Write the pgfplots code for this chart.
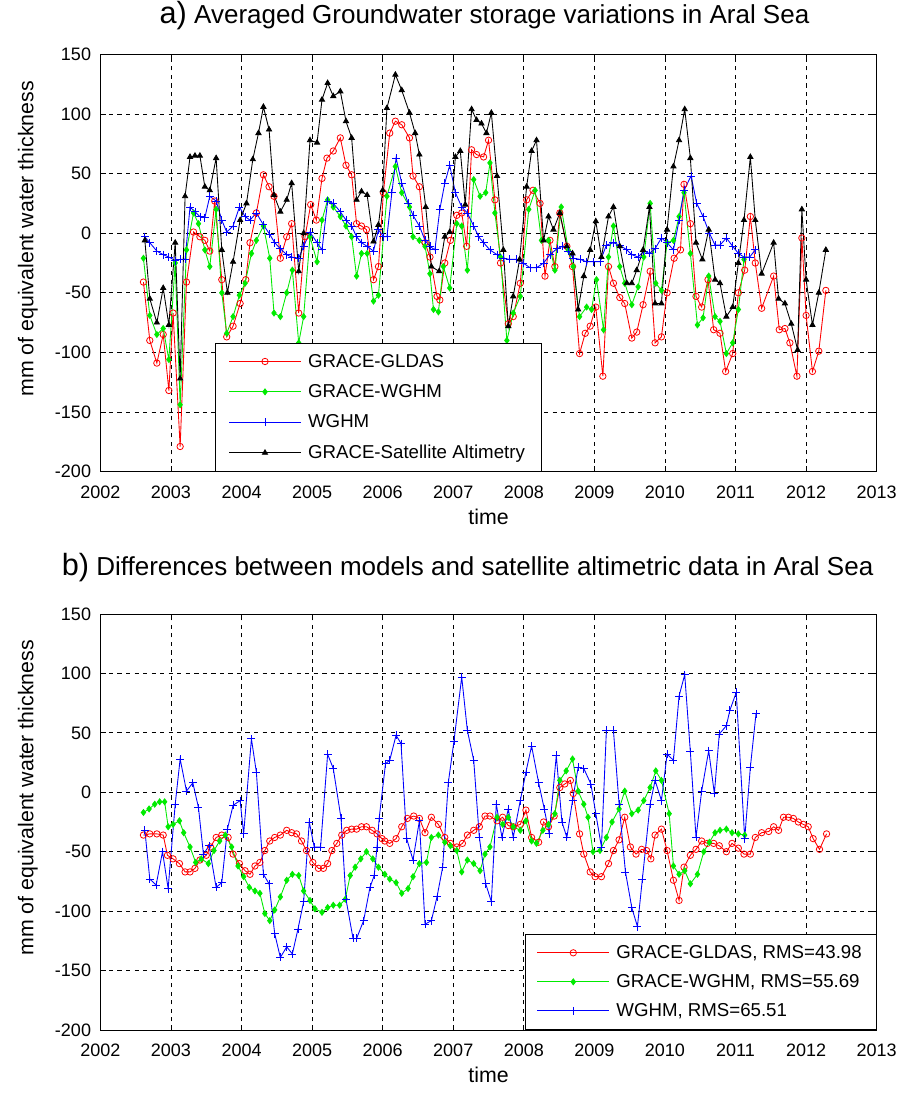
\documentclass[border=0pt]{standalone}
\usepackage{fontspec}
\setmainfont{Liberation Sans}
\usepackage{pgfplots}
\pgfplotsset{compat=1.18}
\definecolor{mred}{RGB}{255,0,0}
\definecolor{mgreen}{RGB}{0,235,0}
\definecolor{mblue}{RGB}{0,0,255}
\pgfplotsset{
  mystyle/.style={
    scale only axis, width=582.2pt, anchor=south west,
    xmin=2002, xmax=2013, ymin=-200, ymax=150,
    xtick={2002,2003,...,2013}, ytick={-200,-150,...,150},
    grid=major, grid style={black, dash pattern=on 3.2pt off 3.2pt, line width=0.55pt},
    axis line style={line width=0.7pt},
    tick align=inside, major tick length=4pt, tick style={black, line width=0.6pt},
    /pgf/number format/assume math mode=true,
    scaled x ticks=false,
    x tick label style={/pgf/number format/.cd, 1000 sep={}, /tikz/.cd, yshift=-7pt},
    y tick label style={xshift=-3.5pt},
    tick label style={font=\fontsize{13.5}{15}\selectfont},
    label style={font=\fontsize{16}{18}\selectfont},
    xlabel={time},
    xlabel style={at={(axis description cs:0.5,-0.126)}, anchor=base},
    ylabel={mm of equivalent water thickness},
    ylabel style={at={(axis description cs:-0.0933,0.558)}, anchor=center},
    legend cell align=left,
    legend image code/.code={\draw[mark repeat=2,mark phase=2,#1] plot coordinates {(0pt,0pt) (27pt,0pt) (54pt,0pt)};},
  },
  sred/.style={color=mred, line width=0.65pt, mark=o, mark size=2.4pt, mark options={solid, line width=0.6pt}},
  sgreen/.style={color=mgreen, line width=0.65pt, mark=diamond*, mark size=2.2pt, mark options={solid, fill=mgreen}},
  sblue/.style={color=mblue, line width=0.65pt, mark=+, mark size=3pt, mark options={solid, line width=0.6pt}},
  sblack/.style={color=black, line width=0.65pt, mark=triangle*, mark size=2.2pt, mark options={solid, fill=black}},
}
\begin{document}
\begin{tikzpicture}
\path[use as bounding box, fill=white] (0,0) rectangle (673.5pt,819.75pt);
% ---------------- top panel ----------------
\begin{axis}[mystyle,
  at={(75.3pt,466.1pt)}, height=312.8pt,
  title={{\fontsize{23}{25}\selectfont a)} Averaged Groundwater storage variations in Aral Sea},
  title style={font=\fontsize{19.5}{22}\selectfont, at={(axis description cs:0.0703,1.054)}, anchor=base west},
  legend style={at={(axis description cs:0.1476,0)}, anchor=south west, fill=white,
    font=\fontsize{14}{16}\selectfont, row sep=7.5pt, inner xsep=10pt, inner ysep=6pt,
    /tikz/every odd column/.append style={column sep=3pt}},
]
\addplot[sred] coordinates {(2002.61,-41)(2002.70,-90)(2002.80,-109)(2002.89,-85)(2002.97,-132)(2003.03,-67)(2003.13,-179)(2003.22,-41)(2003.32,1)(2003.41,-3)(2003.48,-6)(2003.55,-15)(2003.62,27)(2003.72,-39)(2003.79,-87)(2003.88,-78)(2003.98,-59)(2004.06,-39)(2004.12,-8)(2004.21,17)(2004.31,49)(2004.39,39)(2004.46,31)(2004.55,-21)(2004.64,-3)(2004.71,8)(2004.81,-67)(2004.90,-3)(2004.98,24)(2005.06,11)(2005.14,46)(2005.21,63)(2005.30,69)(2005.40,80)(2005.48,57)(2005.56,49)(2005.63,8)(2005.70,6)(2005.77,3)(2005.87,-39)(2005.94,-28)(2006.01,34)(2006.10,84)(2006.18,94)(2006.27,91)(2006.38,80)(2006.43,48)(2006.52,39)(2006.60,-8)(2006.67,-20)(2006.77,-53)(2006.81,-56)(2006.88,-25)(2006.96,-6)(2007.05,15)(2007.12,17)(2007.19,-11)(2007.26,70)(2007.33,66)(2007.43,64)(2007.50,78)(2007.59,28)(2007.67,-25)(2007.78,-76)(2007.85,-70)(2007.95,-42)(2008.04,28)(2008.13,36)(2008.23,25)(2008.30,-36)(2008.37,-6)(2008.44,-28)(2008.51,17)(2008.61,-11)(2008.69,-28)(2008.79,-101)(2008.87,-84)(2008.94,-78)(2009.02,-62)(2009.12,-120)(2009.20,-28)(2009.27,-42)(2009.36,-54)(2009.43,-59)(2009.53,-88)(2009.60,-83)(2009.69,-60)(2009.79,-32)(2009.86,-92)(2009.95,-87)(2010.03,-50)(2010.13,-21)(2010.22,-14)(2010.27,41)(2010.36,8)(2010.44,-53)(2010.52,-62)(2010.61,-39)(2010.69,-81)(2010.78,-84)(2010.86,-116)(2010.96,-101)(2011.04,-50)(2011.13,-31)(2011.21,14)(2011.28,-25)(2011.37,-63)(2011.54,-36)(2011.62,-81)(2011.70,-80)(2011.77,-92)(2011.87,-120)(2011.94,-4)(2012.00,-69)(2012.09,-116)(2012.18,-99)(2012.28,-48)};
\addlegendentry{GRACE-GLDAS}
\addplot[sgreen] coordinates {(2002.61,-21)(2002.70,-69)(2002.80,-85)(2002.89,-80)(2002.97,-106)(2003.06,-25)(2003.13,-144)(2003.22,-14)(2003.32,17)(2003.39,8)(2003.48,-14)(2003.55,-28)(2003.64,20)(2003.72,-50)(2003.79,-84)(2003.88,-70)(2003.97,-52)(2004.05,-42)(2004.14,-17)(2004.21,-6)(2004.31,6)(2004.40,-21)(2004.46,-67)(2004.55,-70)(2004.64,-50)(2004.72,-31)(2004.81,-92)(2004.88,-70)(2004.97,-3)(2005.07,-24)(2005.14,11)(2005.22,28)(2005.30,22)(2005.40,14)(2005.48,6)(2005.56,-3)(2005.63,-36)(2005.70,-17)(2005.78,-17)(2005.87,-57)(2005.94,-52)(2006.06,31)(2006.18,56)(2006.27,34)(2006.38,22)(2006.43,-3)(2006.52,-6)(2006.60,-11)(2006.67,-34)(2006.72,-64)(2006.79,-66)(2006.86,-28)(2006.95,-46)(2007.05,8)(2007.12,6)(2007.20,-31)(2007.29,45)(2007.38,31)(2007.46,34)(2007.52,59)(2007.59,17)(2007.67,-20)(2007.76,-90)(2007.85,-67)(2007.95,-53)(2008.07,20)(2008.16,36)(2008.25,-6)(2008.35,-6)(2008.44,-31)(2008.53,22)(2008.63,-14)(2008.70,-28)(2008.79,-70)(2008.89,-62)(2008.96,-64)(2009.03,-39)(2009.13,-81)(2009.20,-20)(2009.27,6)(2009.36,-28)(2009.43,-42)(2009.53,-60)(2009.62,-45)(2009.70,-20)(2009.79,25)(2009.87,-42)(2009.95,-48)(2010.03,-8)(2010.12,-6)(2010.20,14)(2010.27,34)(2010.36,-17)(2010.46,-77)(2010.54,-71)(2010.62,-36)(2010.71,-70)(2010.78,-74)(2010.87,-101)(2010.96,-92)(2011.04,-64)(2011.12,-22)};
\addlegendentry{GRACE-WGHM}
\addplot[sblue] coordinates {(2002.63,-3)(2002.70,-8)(2002.80,-15)(2002.89,-18)(2002.97,-20)(2003.06,-23)(2003.13,-22)(2003.20,-22)(2003.27,22)(2003.34,18)(2003.41,14)(2003.48,13)(2003.55,31)(2003.64,27)(2003.72,11)(2003.79,1)(2003.88,6)(2003.97,22)(2004.05,14)(2004.12,11)(2004.21,17)(2004.31,7)(2004.40,-1)(2004.47,-8)(2004.55,-13)(2004.64,-18)(2004.71,-20)(2004.81,-21)(2004.88,-11)(2004.97,1)(2005.07,-8)(2005.14,-14)(2005.22,27)(2005.30,25)(2005.40,18)(2005.48,11)(2005.56,6)(2005.63,-3)(2005.70,-8)(2005.78,-11)(2005.87,-15)(2005.94,3)(2006.01,-3)(2006.06,-3)(2006.13,34)(2006.19,63)(2006.27,42)(2006.36,25)(2006.43,15)(2006.52,6)(2006.60,-6)(2006.67,-11)(2006.74,-14)(2006.81,20)(2006.88,42)(2006.95,57)(2007.03,34)(2007.12,22)(2007.20,17)(2007.29,6)(2007.36,-3)(2007.43,-8)(2007.52,-14)(2007.62,-18)(2007.71,-21)(2007.80,-22)(2007.90,-22)(2007.99,-25)(2008.09,-29)(2008.18,-29)(2008.28,-25)(2008.37,-18)(2008.47,-13)(2008.55,-11)(2008.63,-15)(2008.70,-21)(2008.80,-22)(2008.89,-24)(2008.99,-24)(2009.08,-24)(2009.17,-10)(2009.27,-8)(2009.36,-10)(2009.46,-14)(2009.53,-18)(2009.62,-20)(2009.70,-15)(2009.78,-17)(2009.86,-13)(2009.95,-4)(2010.03,-8)(2010.12,-14)(2010.20,11)(2010.27,36)(2010.37,48)(2010.45,25)(2010.54,14)(2010.63,0)(2010.71,-10)(2010.78,-10)(2010.87,-4)(2010.96,-11)(2011.04,-17)(2011.12,-20)(2011.20,-20)(2011.28,-14)};
\addlegendentry{WGHM}
\addplot[sblack] coordinates {(2002.63,-6)(2002.70,-55)(2002.80,-75)(2002.89,-46)(2002.97,-77)(2003.06,-8)(2003.13,-122)(2003.20,31)(2003.27,64)(2003.34,65)(2003.41,65)(2003.48,39)(2003.55,36)(2003.64,63)(2003.72,-14)(2003.80,-50)(2003.88,-24)(2003.98,11)(2004.07,25)(2004.16,62)(2004.24,84)(2004.31,106)(2004.39,87)(2004.46,32)(2004.55,18)(2004.64,28)(2004.71,42)(2004.81,-32)(2004.88,0)(2004.97,78)(2005.07,76)(2005.14,112)(2005.22,126)(2005.30,115)(2005.40,119)(2005.48,94)(2005.56,80)(2005.63,28)(2005.70,35)(2005.78,32)(2005.87,-7)(2005.94,7)(2006.00,36)(2006.06,105)(2006.18,133)(2006.27,120)(2006.38,101)(2006.46,84)(2006.52,66)(2006.61,22)(2006.69,-28)(2006.80,-32)(2006.88,-3)(2006.95,1)(2007.03,64)(2007.10,69)(2007.17,24)(2007.26,104)(2007.33,95)(2007.40,92)(2007.47,84)(2007.54,101)(2007.62,48)(2007.71,-14)(2007.78,-78)(2007.85,-53)(2007.94,-22)(2008.04,39)(2008.11,69)(2008.18,78)(2008.28,-6)(2008.35,14)(2008.42,3)(2008.51,17)(2008.61,-11)(2008.69,-17)(2008.77,-64)(2008.85,-36)(2008.94,-14)(2009.02,10)(2009.10,-20)(2009.20,14)(2009.27,22)(2009.36,-11)(2009.46,-42)(2009.53,-42)(2009.60,-31)(2009.69,-14)(2009.78,22)(2009.86,-59)(2009.95,-59)(2010.03,3)(2010.12,56)(2010.20,78)(2010.28,104)(2010.36,63)(2010.44,-8)(2010.53,-22)(2010.62,3)(2010.71,-39)(2010.78,-42)(2010.87,-70)(2010.96,-62)(2011.04,-25)(2011.12,11)(2011.21,64)(2011.28,11)(2011.37,-34)(2011.54,-8)(2011.61,-55)(2011.70,-59)(2011.79,-76)(2011.88,-98)(2011.94,20)(2012.00,-39)(2012.09,-77)(2012.18,-50)(2012.28,-14)};
\addlegendentry{GRACE-Satellite Altimetry}
\end{axis}
% ---------------- bottom panel ----------------
\begin{axis}[mystyle,
  at={(75.3pt,47.25pt)}, height=312pt,
  title={{\fontsize{23}{25}\selectfont b)} Differences between models and satellite altimetric data in Aral Sea},
  title style={font=\fontsize{19.5}{22}\selectfont, at={(axis description cs:1.0018,1.0745)}, anchor=base east},
  legend style={at={(axis description cs:1,0)}, anchor=south east, fill=white,
    font=\fontsize{14}{16}\selectfont, row sep=6.5pt, inner xsep=9pt, inner ysep=6.5pt,
    /tikz/every odd column/.append style={column sep=3pt}},
]
\addplot[sred] coordinates {(2002.61,-36)(2002.70,-35)(2002.80,-35)(2002.89,-36)(2002.95,-53)(2003.03,-56)(2003.12,-60)(2003.20,-67)(2003.27,-67)(2003.34,-64)(2003.41,-57)(2003.50,-53)(2003.56,-46)(2003.64,-38)(2003.72,-36)(2003.81,-38)(2003.88,-52)(2003.97,-60)(2004.05,-66)(2004.12,-69)(2004.19,-62)(2004.26,-59)(2004.33,-49)(2004.40,-41)(2004.47,-38)(2004.55,-36)(2004.64,-32)(2004.71,-34)(2004.78,-35)(2004.85,-41)(2004.92,-49)(2005.01,-59)(2005.09,-64)(2005.16,-64)(2005.22,-60)(2005.28,-49)(2005.35,-43)(2005.42,-36)(2005.49,-32)(2005.56,-31)(2005.63,-31)(2005.70,-29)(2005.77,-29)(2005.85,-32)(2005.92,-35)(2005.99,-39)(2006.03,-41)(2006.10,-43)(2006.19,-39)(2006.27,-29)(2006.35,-22)(2006.44,-20)(2006.52,-22)(2006.60,-34)(2006.69,-21)(2006.79,-27)(2006.88,-38)(2006.96,-43)(2007.05,-46)(2007.13,-43)(2007.20,-36)(2007.29,-32)(2007.37,-29)(2007.45,-20)(2007.52,-20)(2007.62,-24)(2007.70,-21)(2007.78,-28)(2007.85,-29)(2007.95,-27)(2008.03,-15)(2008.11,-38)(2008.21,-42)(2008.28,-25)(2008.35,-29)(2008.43,-20)(2008.51,4)(2008.58,7)(2008.66,10)(2008.70,-1)(2008.79,-35)(2008.85,-52)(2008.94,-67)(2009.01,-71)(2009.10,-71)(2009.20,-60)(2009.27,-49)(2009.35,-40)(2009.43,-21)(2009.51,-46)(2009.59,-52)(2009.67,-48)(2009.74,-49)(2009.80,-56)(2009.86,-36)(2009.95,-31)(2010.03,-49)(2010.12,-74)(2010.20,-91)(2010.27,-63)(2010.36,-53)(2010.44,-48)(2010.52,-41)(2010.60,-43)(2010.69,-43)(2010.77,-45)(2010.87,-50)(2010.95,-43)(2011.04,-47)(2011.12,-52)(2011.21,-52)(2011.28,-38)(2011.37,-34)(2011.47,-33)(2011.54,-29)(2011.61,-32)(2011.68,-21)(2011.75,-21)(2011.82,-22)(2011.89,-25)(2011.96,-27)(2012.03,-29)(2012.10,-39)(2012.19,-48)(2012.29,-35)};
\addlegendentry{GRACE-GLDAS, RMS=43.98}
\addplot[sgreen] coordinates {(2002.61,-17)(2002.69,-14)(2002.77,-10)(2002.84,-8)(2002.91,-8)(2002.96,-29)(2003.03,-27)(2003.12,-24)(2003.18,-34)(2003.27,-46)(2003.35,-59)(2003.43,-56)(2003.53,-60)(2003.61,-49)(2003.69,-41)(2003.77,-36)(2003.86,-46)(2003.95,-62)(2004.03,-71)(2004.11,-80)(2004.19,-83)(2004.26,-85)(2004.33,-102)(2004.40,-108)(2004.47,-99)(2004.55,-88)(2004.64,-74)(2004.72,-69)(2004.81,-70)(2004.88,-83)(2004.97,-91)(2005.04,-98)(2005.14,-101)(2005.22,-97)(2005.30,-95)(2005.39,-95)(2005.47,-90)(2005.54,-70)(2005.61,-63)(2005.69,-56)(2005.77,-50)(2005.86,-56)(2005.94,-63)(2006.03,-69)(2006.10,-73)(2006.19,-76)(2006.27,-85)(2006.36,-81)(2006.43,-71)(2006.52,-60)(2006.62,-59)(2006.69,-38)(2006.79,-36)(2006.88,-42)(2006.96,-45)(2007.05,-49)(2007.12,-67)(2007.20,-57)(2007.29,-60)(2007.38,-66)(2007.45,-52)(2007.52,-46)(2007.62,-21)(2007.70,-27)(2007.78,-21)(2007.85,-29)(2007.95,-32)(2008.03,-24)(2008.11,-41)(2008.18,-43)(2008.27,-32)(2008.35,-27)(2008.44,-18)(2008.51,10)(2008.60,18)(2008.69,28)(2008.77,1)(2008.85,-10)(2008.91,-21)(2008.98,-50)(2009.08,-49)(2009.17,-38)(2009.25,-25)(2009.35,-14)(2009.43,1)(2009.53,-18)(2009.62,-15)(2009.70,-7)(2009.79,4)(2009.87,18)(2009.95,10)(2010.06,-18)(2010.12,-62)(2010.20,-69)(2010.28,-66)(2010.36,-77)(2010.46,-69)(2010.55,-50)(2010.63,-42)(2010.71,-34)(2010.78,-32)(2010.87,-31)(2010.95,-34)(2011.04,-35)(2011.13,-36)};
\addlegendentry{GRACE-WGHM, RMS=55.69}
\addplot[sblue] coordinates {(2002.63,-32)(2002.70,-73)(2002.79,-78)(2002.88,-50)(2002.96,-81)(2003.06,-10)(2003.13,28)(2003.22,1)(2003.31,8)(2003.39,-13)(2003.46,-52)(2003.54,-45)(2003.64,-80)(2003.72,-76)(2003.80,-31)(2003.88,-11)(2003.98,-7)(2004.03,-35)(2004.14,45)(2004.21,17)(2004.31,-69)(2004.39,-77)(2004.47,-119)(2004.55,-139)(2004.64,-130)(2004.72,-136)(2004.80,-115)(2004.88,-92)(2004.96,-25)(2005.03,-46)(2005.12,-46)(2005.22,32)(2005.30,20)(2005.41,-22)(2005.48,-90)(2005.58,-123)(2005.63,-123)(2005.73,-108)(2005.82,-80)(2005.88,-70)(2005.92,-46)(2005.95,-22)(2006.04,24)(2006.10,27)(2006.19,48)(2006.26,41)(2006.34,-39)(2006.43,-57)(2006.52,-24)(2006.60,-111)(2006.69,-108)(2006.77,-88)(2006.85,-63)(2006.93,8)(2007.01,43)(2007.12,97)(2007.20,52)(2007.29,27)(2007.37,-38)(2007.46,-77)(2007.54,-92)(2007.61,-10)(2007.69,-38)(2007.78,-14)(2007.85,-38)(2007.95,-7)(2008.03,17)(2008.11,39)(2008.21,8)(2008.29,-14)(2008.36,-35)(2008.46,31)(2008.54,-25)(2008.61,-38)(2008.69,-7)(2008.77,21)(2008.85,20)(2008.95,7)(2009.02,-18)(2009.10,-46)(2009.17,52)(2009.27,52)(2009.35,-10)(2009.44,-67)(2009.53,-97)(2009.61,-113)(2009.68,-73)(2009.79,-10)(2009.86,10)(2009.95,-7)(2010.03,32)(2010.12,27)(2010.20,81)(2010.28,99)(2010.36,34)(2010.44,-38)(2010.52,1)(2010.62,35)(2010.70,-1)(2010.77,49)(2010.87,56)(2010.92,69)(2011.01,84)(2011.13,-39)(2011.21,21)(2011.29,66)};
\addlegendentry{WGHM, RMS=65.51}
\end{axis}
\end{tikzpicture}
\end{document}
